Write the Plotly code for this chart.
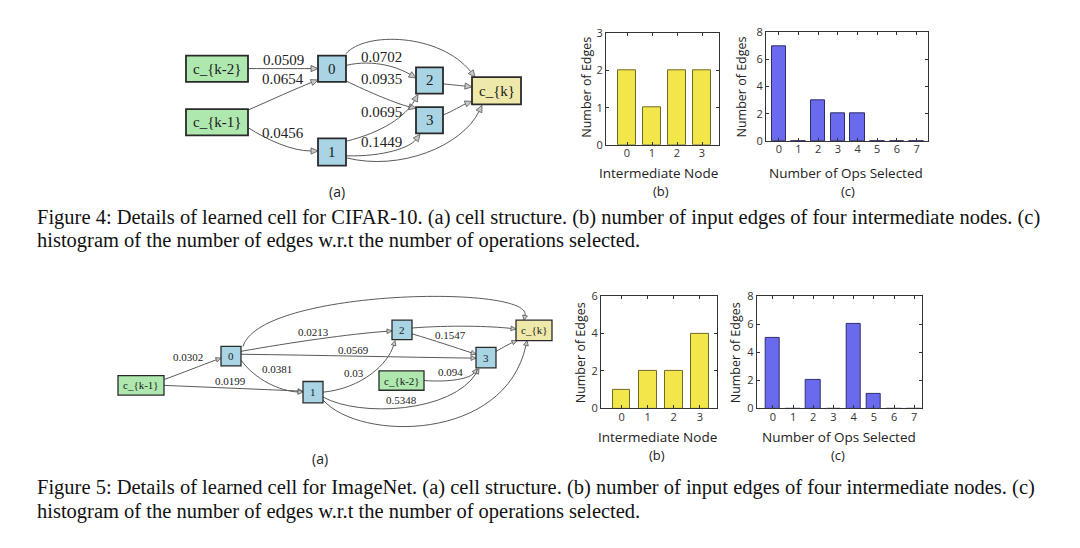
import math
import plotly.graph_objects as go

# ---------------- data ----------------
intermediate_nodes = ["0", "1", "2", "3"]
ops_selected = ["0", "1", "2", "3", "4", "5", "6", "7"]

cifar_input_edges = [2, 1, 2, 2]
cifar_ops_hist = [7, 0, 3, 2, 2, 0, 0, 0]
imagenet_input_edges = [1, 2, 2, 4]
imagenet_ops_hist = [5, 0, 2, 0, 6, 1, 0, 0]

node_labels = {"k2": "c_{k-2}", "k1": "c_{k-1}", "0": "0", "1": "1",
               "2": "2", "3": "3", "k": "c_{k}"}

# (source, target, weight label)
cifar_edges = [("k2", "0", "0.0509"), ("k1", "0", "0.0654"), ("k1", "1", "0.0456"),
               ("0", "2", "0.0702"), ("0", "3", "0.0935"), ("0", "k", None),
               ("1", "2", "0.0695"), ("1", "3", "0.1449"), ("1", "k", None),
               ("2", "k", None), ("3", "k", None)]
imagenet_edges = [("k1", "0", "0.0302"), ("k1", "1", "0.0199"), ("0", "1", "0.0381"),
                  ("0", "2", "0.0213"), ("0", "3", "0.0569"), ("0", "k", None),
                  ("1", "2", "0.03"), ("1", "3", "0.5348"), ("1", "k", None),
                  ("2", "3", "0.1547"), ("2", "k", None), ("3", "k", None),
                  ("k2", "3", "0.094")]

caption4 = ["Figure 4: Details of learned cell for CIFAR-10. (a) cell structure. (b) number of input edges of four intermediate nodes. (c)",
            "histogram of the number of edges w.r.t the number of operations selected."]
caption5 = ["Figure 5: Details of learned cell for ImageNet. (a) cell structure. (b) number of input edges of four intermediate nodes. (c)",
            "histogram of the number of edges w.r.t the number of operations selected."]

# ---------------- diagram layout (pixel canvas) ----------------
W, H = 1080, 548
node_fill = {"k2": "#aee8ae", "k1": "#aee8ae", "k": "#eee8aa",
             "0": "#a9d4e4", "1": "#a9d4e4", "2": "#a9d4e4", "3": "#a9d4e4"}

cifar_boxes = {"k2": (186, 49, 248, 76), "k1": (186, 104, 248, 131),
               "0": (318, 49, 346, 76), "1": (318, 134, 346, 162),
               "2": (416, 61, 443, 88), "3": (416, 102, 443, 129),
               "k": (472, 71, 521, 99)}
cifar_curves = [  # start, c1, c2, end (same order as cifar_edges)
    ((248, 62.3), (271, 62.3), (295, 62.3), (318, 62.3)),
    ((248, 105), (272, 94), (298, 82), (318, 74)),
    ((248, 123), (268, 136), (292, 147), (318, 147)),
    ((346, 59), (375, 52), (400, 62), (416, 72)),
    ((346, 75), (370, 87), (398, 99), (416, 103)),
    ((346, 47), (365, 24), (440, 26), (475, 71)),
    ((346, 137), (382, 128), (405, 112), (418, 89)),
    ((346, 152), (385, 153), (410, 143), (420, 130)),
    ((346, 154), (400, 168), (462, 142), (482, 100)),
    ((443, 78), (453, 79), (462, 80), (472, 81)),
    ((443, 110), (453, 106), (462, 100), (472, 96)),
]
cifar_label_pos = [(283.3, 53.3), (283.3, 72.7), (283.3, 129), (381, 50), (381, 72.7),
                   None, (381, 106.7), (381, 137.7), None, None, None]

imagenet_boxes = {"k1": (118, 378, 164, 398), "0": (221, 348, 241, 368),
                  "1": (303, 384, 323, 406), "2": (392, 321, 412, 341),
                  "3": (476, 349, 496, 370), "k2": (379, 373, 424, 393),
                  "k": (516, 321, 552, 342)}
imagenet_curves = [
    ((164, 382), (183, 375), (202, 367), (221, 360)),
    ((164, 388), (210, 390), (260, 392), (303, 394)),
    ((241, 362), (255, 382), (280, 394), (303, 395)),
    ((241, 353), (290, 344), (350, 335), (392, 332)),
    ((241, 356), (320, 357), (400, 359), (476, 360)),
    ((243, 348), (260, 289), (532, 284), (524, 321)),
    ((323, 395), (362, 391), (388, 366), (395, 342)),
    ((323, 400), (360, 421), (452, 416), (479, 371)),
    ((323, 403), (360, 446), (505, 446), (527, 342)),
    ((412, 335), (435, 342), (455, 349), (476, 356)),
    ((412, 329), (450, 326), (490, 327), (516, 330)),
    ((496, 353), (503, 349), (510, 345), (517, 342)),
    ((424, 383), (450, 385), (470, 381), (477, 371)),
]
imagenet_label_pos = [(188.3, 359), (230, 384), (276.7, 370.7), (313.3, 332.7),
                      (353.3, 351.7), None, (354, 375), (401.7, 402.7), None,
                      (450, 336.7), None, None, (450, 374.3)]

fig = go.Figure()
shapes, annotations = [], []


def draw_diagram(boxes, edges, curves, label_pos, fsize, alen, awid, lw):
    for (s, t, lab), (p0, c1, c2, p1), lp in zip(edges, curves, label_pos):
        dx, dy = p1[0] - c2[0], p1[1] - c2[1]
        n = math.hypot(dx, dy) or 1.0
        ux, uy = dx / n, dy / n
        bx, by = p1[0] - ux * alen, p1[1] - uy * alen
        shapes.append(dict(type="path", xref="x", yref="y", layer="above",
                           path=f"M {p0[0]} {p0[1]} C {c1[0]} {c1[1]}, {c2[0]} {c2[1]}, {bx} {by}",
                           line=dict(color="#5a5a5a", width=1)))
        px, py = -uy * awid, ux * awid
        shapes.append(dict(type="path", xref="x", yref="y", layer="above",
                           path=f"M {p1[0]} {p1[1]} L {bx + px} {by + py} L {bx - px} {by - py} Z",
                           fillcolor="#c8c8c8", line=dict(color="#555555", width=0.8)))
        if lab is not None and lp is not None:
            annotations.append(dict(x=lp[0], y=lp[1], xref="x", yref="y", text=lab,
                                    showarrow=False, font=dict(family="Liberation Serif", size=fsize, color="#222222")))
    for key, (x0, y0, x1, y1) in boxes.items():
        shapes.append(dict(type="rect", xref="x", yref="y", layer="above",
                           x0=x0, y0=y0, x1=x1, y1=y1, fillcolor=node_fill[key],
                           line=dict(color="#2a2a2a", width=lw)))
        annotations.append(dict(x=(x0 + x1) / 2, y=(y0 + y1) / 2, xref="x", yref="y",
                                text=node_labels[key], showarrow=False,
                                font=dict(family="Liberation Serif", size=fsize, color="#1a1a1a")))


draw_diagram(cifar_boxes, cifar_edges, cifar_curves, cifar_label_pos, 15, 7, 3.2, 1.8)
draw_diagram(imagenet_boxes, imagenet_edges, imagenet_curves, imagenet_label_pos, 11, 5, 2.4, 1.3)

# invisible trace to anchor the canvas axis
fig.add_trace(go.Scatter(x=[0, W], y=[0, H], mode="markers", marker=dict(opacity=0),
                         hoverinfo="skip", showlegend=False, xaxis="x", yaxis="y"))

yellow, yellow_edge = "#f3e64a", "#6e6a2a"
blue, blue_edge = "#6a6aee", "#2e2e6a"


def add_bars(cats, vals, ax, color, edge, width):
    fig.add_trace(go.Bar(x=list(range(len(cats))), y=vals, width=width, xaxis="x" + ax, yaxis="y" + ax,
                         marker=dict(color=color, line=dict(color=edge, width=1)), showlegend=False))


add_bars(intermediate_nodes, cifar_input_edges, "2", yellow, yellow_edge, 0.69)
add_bars(ops_selected, cifar_ops_hist, "3", blue, blue_edge, 0.74)
add_bars(intermediate_nodes, imagenet_input_edges, "4", yellow, yellow_edge, 0.68)
add_bars(ops_selected, imagenet_ops_hist, "5", blue, blue_edge, 0.71)


def px_dom_x(a, b):
    return [a / W, b / W]


def px_dom_y(top, bottom):
    return [1 - bottom / H, 1 - top / H]


tickfont = dict(family="Open Sans", size=11, color="#333333")
common_x = dict(showline=True, linecolor="#333333", linewidth=1, mirror="ticks", ticks="inside",
                ticklen=3, tickcolor="#333333", tickfont=tickfont, showgrid=False, zeroline=False,
                ticklabelstandoff=-2)
common_y = dict(showline=True, linecolor="#333333", linewidth=1, mirror="ticks", ticks="inside",
                ticklen=3, tickcolor="#333333", tickfont=tickfont, showgrid=False, zeroline=False)

fig.update_layout(
    width=W, height=H, margin=dict(l=0, r=0, t=0, b=0),
    paper_bgcolor="white", plot_bgcolor="rgba(0,0,0,0)", bargap=0,
    xaxis=dict(domain=[0, 1], range=[0, W], visible=False, fixedrange=True),
    yaxis=dict(domain=[0, 1], range=[H, 0], visible=False, fixedrange=True),
    xaxis2=dict(domain=px_dom_x(606, 719), anchor="y2", range=[-0.84, 3.68],
                tickvals=list(range(4)), ticktext=intermediate_nodes, **common_x),
    yaxis2=dict(domain=px_dom_y(26, 140.7), anchor="x2", range=[0, 3], dtick=1, **common_y),
    xaxis3=dict(domain=px_dom_x(766, 928), anchor="y3", range=[-0.65, 7.58],
                tickvals=list(range(8)), ticktext=ops_selected, **common_x),
    yaxis3=dict(domain=px_dom_y(25, 136.7), anchor="x3", range=[0, 8], dtick=2, **common_y),
    xaxis4=dict(domain=px_dom_x(601, 717), anchor="y4", range=[-0.79, 3.66],
                tickvals=list(range(4)), ticktext=intermediate_nodes, **common_x),
    yaxis4=dict(domain=px_dom_y(296, 411.7), anchor="x4", range=[0, 6], dtick=2, **common_y),
    xaxis5=dict(domain=px_dom_x(756.7, 921.7), anchor="y5", range=[-0.8, 7.37],
                tickvals=list(range(8)), ticktext=ops_selected, **common_x),
    yaxis5=dict(domain=px_dom_y(296, 411.7), anchor="x5", range=[0, 8], dtick=2, **common_y),
)

sans = "Open Sans"


def text(x, y, s, size, family=sans, angle=0, xanchor="center", color="#222222"):
    annotations.append(dict(x=x, y=y, xref="x", yref="y", text=s, showarrow=False, textangle=angle,
                            xanchor=xanchor, yanchor="middle", borderpad=0,
                            font=dict(family=family, size=size, color=color)))


# axis titles and panel letters
text(658.3, 169.5, "Intermediate Node", 13.5)
text(846, 169.5, "Number of Ops Selected", 13.5)
text(660.7, 188, "(b)", 13)
text(848, 188, "(c)", 13)
text(587, 82, "Number of Edges", 12.5, angle=-90)
text(741.7, 81, "Number of Edges", 12.5, angle=-90)
text(336.7, 188.3, "(a)", 14)

text(657.8, 441, "Intermediate Node", 13.5)
text(839, 441, "Number of Ops Selected", 13.5)
text(657.3, 460, "(b)", 13)
text(838.3, 460, "(c)", 13)
text(580, 355, "Number of Edges", 12.5, angle=-90)
text(735, 355, "Number of Edges", 12.5, angle=-90)
text(320, 463.3, "(a)", 14)

# captions
for i, line in enumerate(caption4):
    text(36, 215 + 24.5 * i, line, 20.5, family="Liberation Serif", xanchor="left", color="#111111")
for i, line in enumerate(caption5):
    text(36, 493 + 24.5 * i, line, 20.5, family="Liberation Serif", xanchor="left", color="#111111")

fig.update_layout(shapes=shapes, annotations=annotations)
fig.write_html("out.html", config={"displayModeBar": False},
               post_script="document.body.style.margin='0px';document.body.style.padding='0px';")
